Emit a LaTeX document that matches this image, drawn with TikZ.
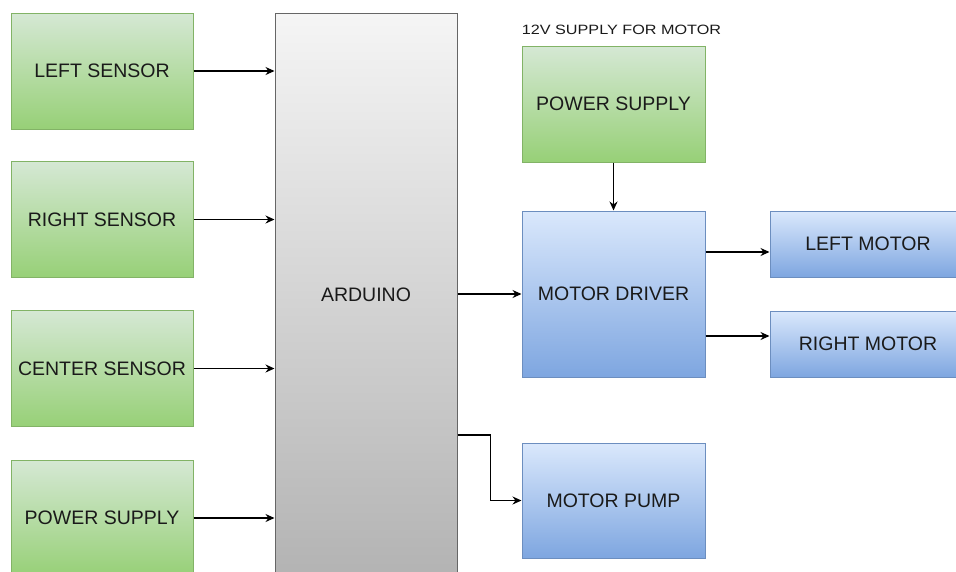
\documentclass[tikz,border=0pt]{standalone}
\usepackage{fontspec}
\setmainfont{Liberation Sans}
\usetikzlibrary{arrows.meta,calc}
\definecolor{gtop}{HTML}{D5E8D4}
\definecolor{gbot}{HTML}{97D077}
\definecolor{gline}{HTML}{82B366}
\definecolor{btop}{HTML}{DAE8FC}
\definecolor{bbot}{HTML}{7EA6E0}
\definecolor{bline}{HTML}{6C8EBF}
\definecolor{atop}{HTML}{F5F5F5}
\definecolor{abot}{HTML}{B3B3B3}
\definecolor{aline}{HTML}{666666}
\definecolor{txt}{HTML}{1A1A1A}
\begin{document}
\begin{tikzpicture}[x=1pt,y=-1pt,
  box/.style={inner sep=0pt, line width=1pt, text=txt, font=\fontsize{19.5}{22}\selectfont},
  gbox/.style={box, draw=gline, top color=gtop, bottom color=gbot},
  bbox/.style={box, draw=bline, top color=btop, bottom color=bbot},
  abox/.style={box, draw=aline, top color=atop, bottom color=abot},
  arr/.style={-{Stealth[length=9pt,width=8pt]}, line width=1.3pt, black}]
\useasboundingbox (0,0) rectangle (956,571);
\clip (0,0) rectangle (956,571);
\node[gbox, minimum width=182pt, minimum height=116pt] (lsens) at (102,71) {LEFT SENSOR};
\node[gbox, minimum width=182pt, minimum height=116pt] (rsens) at (102,219.5) {RIGHT SENSOR};
\node[gbox, minimum width=182pt, minimum height=116pt] (csens) at (102,368.5) {CENTER SENSOR};
\node[gbox, minimum width=182pt, minimum height=116pt] (psl) at (102,518) {POWER SUPPLY};
\node[abox, minimum width=182pt, minimum height=563pt] (ard) at (366,294.5) {ARDUINO};
\node[gbox, minimum width=183pt, minimum height=116pt] (ps) at (613.5,104) {POWER SUPPLY};
\node[bbox, minimum width=183pt, minimum height=166pt] (md) at (613.5,294) {MOTOR DRIVER};
\node[bbox, minimum width=196pt, minimum height=66pt] (lm) at (868,244) {LEFT MOTOR};
\node[bbox, minimum width=196pt, minimum height=66pt] (rm) at (868,344) {RIGHT MOTOR};
\node[bbox, minimum width=183pt, minimum height=115pt] (pump) at (613.5,500.5) {MOTOR PUMP};
\node[inner sep=0pt, text=txt] (lbl) at (621.5,30) {\scalebox{1.2}[1]{\fontsize{13.5}{16}\selectfont 12V SUPPLY FOR MOTOR}};
\draw[arr] (lsens.east) -- (lsens.east -| ard.west);
\draw[arr] (rsens.east) -- (rsens.east -| ard.west);
\draw[arr] (csens.east) -- (csens.east -| ard.west);
\draw[arr] (psl.east) -- (psl.east -| ard.west);
\draw[arr] (ard.east |- md.west) -- (md.west);
\draw[arr] (ps.south) -- (md.north);
\path (lm.west) ++(0,8) coordinate (lmin);
\path (rm.west) ++(0,-8) coordinate (rmin);
\draw[arr] (md.east |- lmin) -- (lmin);
\draw[arr] (md.east |- rmin) -- (rmin);
\path (ard.east |- 0,435) coordinate (ardp);
\draw[arr] (ardp) -- ++(33,0) |- (pump.west);
\end{tikzpicture}
\end{document}
